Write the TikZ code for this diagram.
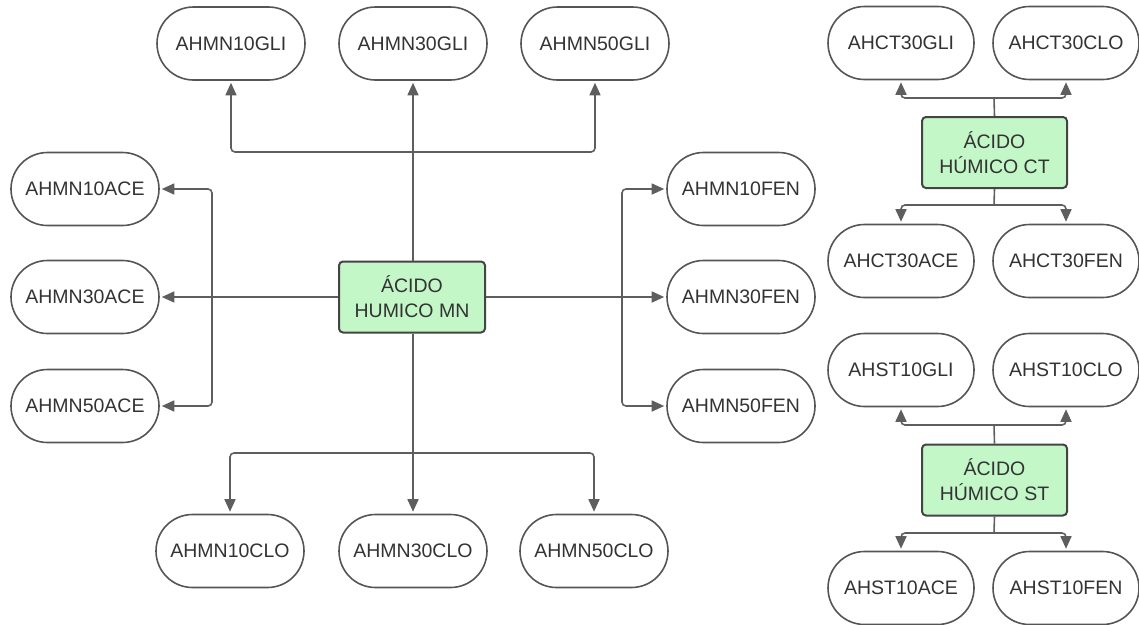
\documentclass[tikz,border=0pt]{standalone}
\usepackage{fontspec}
\setmainfont{Liberation Sans}
\usetikzlibrary{arrows.meta}
\definecolor{linec}{HTML}{5E5E5E}
\definecolor{bordc}{HTML}{555555}
\definecolor{txtc}{HTML}{333333}
\definecolor{greenf}{HTML}{C3F7C8}
\tikzset{
  pill/.style={draw=bordc, line width=1.6pt, rounded corners=36.5pt, minimum width=148pt, minimum height=73pt, inner sep=0pt, text=txtc, font=\fontsize{19.5}{23}\selectfont, fill=white},
  hub/.style={draw=bordc!80!black, line width=2pt, rounded corners=4pt, fill=greenf, minimum width=146pt, minimum height=71pt, inner sep=0pt, text=txtc, align=center, font=\fontsize{19.5}{25}\selectfont},
  conn/.style={draw=linec, line width=1.6pt, rounded corners=4pt},
  arr/.style={conn, shorten >=2pt, -{Triangle[length=12.5pt,width=11pt]}},
}
\begin{document}
\begin{tikzpicture}[x=1pt,y=-1pt]
\useasboundingbox (0,0) rectangle (1139,624);
% main hub
\node[hub] (mn) at (412,297) {ÁCIDO\\HUMICO MN};
% top
\node[pill] (g10) at (231,43.5) {AHMN10GLI};
\node[pill] (g30) at (413,43.5) {AHMN30GLI};
\node[pill] (g50) at (595,43.5) {AHMN50GLI};
% left
\node[pill] (a10) at (85,189) {AHMN10ACE};
\node[pill] (a30) at (85,297) {AHMN30ACE};
\node[pill] (a50) at (85,406) {AHMN50ACE};
% right
\node[pill] (f10) at (741,189) {AHMN10FEN};
\node[pill] (f30) at (741,297) {AHMN30FEN};
\node[pill] (f50) at (741,406) {AHMN50FEN};
% bottom
\node[pill] (c10) at (230,551) {AHMN10CLO};
\node[pill] (c30) at (413,551) {AHMN30CLO};
\node[pill] (c50) at (594,551) {AHMN50CLO};
% bus coordinates
\coordinate (tb) at (413,152);
\coordinate (lb) at (212,297);
\coordinate (rb) at (622,297);
\coordinate (bb) at (413,453);
% connectors main
\draw[arr] (mn.north -| g30.south) -- (g30.south);
\draw[arr] (tb) -| (g10.south);
\draw[arr] (tb) -| (g50.south);
\draw[arr] (mn.west) -- (a30.east);
\draw[arr] (lb) |- (a10.east);
\draw[arr] (lb) |- (a50.east);
\draw[arr] (mn.east) -- (f30.west);
\draw[arr] (rb) |- (f10.west);
\draw[arr] (rb) |- (f50.west);
\draw[arr] (mn.south -| c30.north) -- (c30.north);
\draw[arr] (bb) -| (c10.north);
\draw[arr] (bb) -| (c50.north);
% CT group
\node[hub, minimum width=145pt] (ct) at (994.5,152.5) {ÁCIDO\\HÚMICO CT};
\node[pill, minimum width=146pt] (ctg) at (901,43) {AHCT30GLI};
\node[pill, minimum width=146pt] (ctc) at (1066,43) {AHCT30CLO};
\node[pill, minimum width=146pt] (cta) at (901,261) {AHCT30ACE};
\node[pill, minimum width=146pt] (ctf) at (1066,261) {AHCT30FEN};
\coordinate (ctt) at (994,98);
\coordinate (ctb) at (994,205);
\draw[conn] (ct.north) -- (ctt);
\draw[arr] (ctt) -| (ctg.south);
\draw[arr] (ctt) -| (ctc.south);
\draw[conn] (ct.south) -- (ctb);
\draw[arr] (ctb) -| (cta.north);
\draw[arr] (ctb) -| (ctf.north);
% ST group
\node[hub, minimum width=145pt] (st) at (994.5,480) {ÁCIDO\\HÚMICO ST};
\node[pill, minimum width=146pt] (stg) at (901,370) {AHST10GLI};
\node[pill, minimum width=146pt] (stc) at (1066,370) {AHST10CLO};
\node[pill, minimum width=146pt] (sta) at (901,588) {AHST10ACE};
\node[pill, minimum width=146pt] (stf) at (1066,588) {AHST10FEN};
\coordinate (stt) at (994,425);
\coordinate (stb) at (994,533);
\draw[conn] (st.north) -- (stt);
\draw[arr] (stt) -| (stg.south);
\draw[arr] (stt) -| (stc.south);
\draw[conn] (st.south) -- (stb);
\draw[arr] (stb) -| (sta.north);
\draw[arr] (stb) -| (stf.north);
\end{tikzpicture}
\end{document}
